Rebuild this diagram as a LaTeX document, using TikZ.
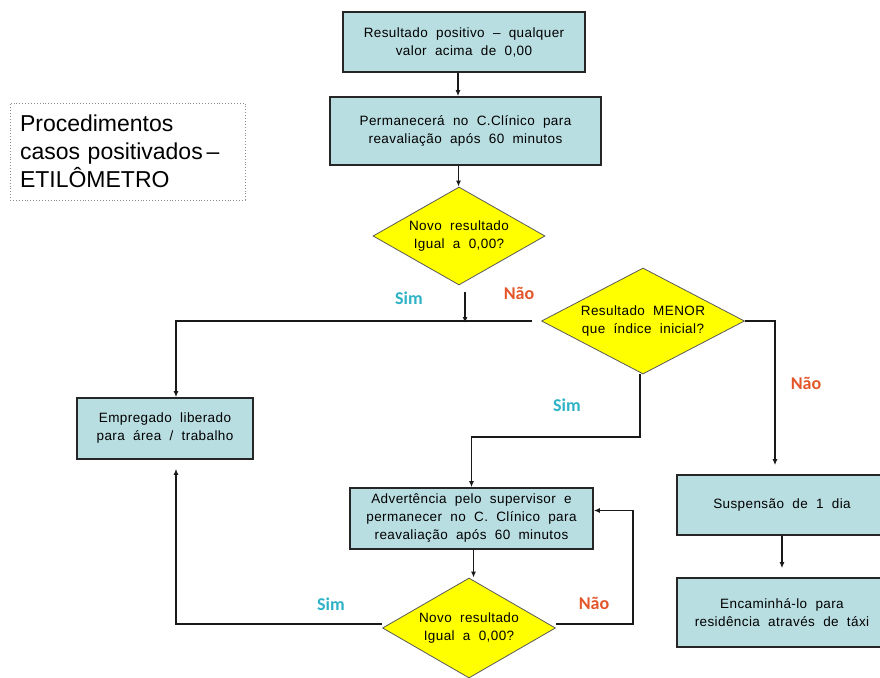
\documentclass[tikz,border=0pt]{standalone}
\usepackage{fontspec}
\setmainfont{Liberation Sans}
\newfontfamily\boxfont{Liberation Sans}[WordSpace=2,LetterSpace=3]
\newfontfamily\lblfont{Carlito}
\usetikzlibrary{shapes.geometric,arrows.meta,calc}
\definecolor{boxblue}{RGB}{185,222,226}
\definecolor{dyellow}{RGB}{255,255,0}
\definecolor{simc}{RGB}{45,178,198}
\definecolor{naoc}{RGB}{226,86,42}
\begin{document}
\begin{tikzpicture}[x=1pt,y=-1pt,
  procbox/.style={rectangle,draw=black!85,line width=1.6pt,fill=boxblue,inner sep=0pt,align=center,
    font=\boxfont\fontsize{13.5}{18}\selectfont},
  decis/.style={diamond,draw=black!65,line width=0.8pt,fill=dyellow,inner sep=-25pt,align=center,
    font=\boxfont\fontsize{13.5}{18}\selectfont},
  titlebox/.style={rectangle,draw=black!45,dotted,line width=0.9pt,inner sep=10pt,align=left,
    text width=215pt,font=\fontsize{23}{28}\selectfont},
  arr/.style={draw=black!90,line width=1.3pt,-{Latex[length=6pt,width=5pt]}},
  simlbl/.style={font=\lblfont\bfseries\fontsize{18}{20}\selectfont,text=simc},
  naolbl/.style={font=\lblfont\bfseries\fontsize{18}{20}\selectfont,text=naoc}
]
\useasboundingbox (0,0) rectangle (880,677);
\clip (0,0) rectangle (880,677);

% title
\node[titlebox,minimum width=235pt,minimum height=97pt] (title) at (127.5,151.5)
  {Procedimentos\\casos positivados\,–\\ETILÔMETRO};

% process boxes
\node[procbox,minimum width=242pt,minimum height=60pt] (b1) at (464,42)
  {Resultado positivo – qualquer\\valor acima de 0,00};
\node[procbox,minimum width=271pt,minimum height=68pt] (b2) at (465.5,131)
  {Permanecerá no C.Clínico para\\reavaliação após 60 minutos};
\node[procbox,minimum width=176pt,minimum height=61pt] (emp) at (165,428.5)
  {Empregado liberado\\para área / trabalho};
\node[procbox,minimum width=243pt,minimum height=61pt] (adv) at (471.5,518.5)
  {Advertência pelo supervisor e\\permanecer no C. Clínico para\\reavaliação após 60 minutos};
\node[procbox,minimum width=210pt,minimum height=60pt] (sus) at (782,505)
  {Suspensão de 1 dia};
\node[procbox,minimum width=210pt,minimum height=69pt] (enc) at (782,612.5)
  {Encaminhá-lo para\\residência através de táxi};

% decisions
\node[decis,minimum width=172pt,minimum height=98pt] (d1) at (459,236)
  {Novo resultado\\Igual a 0,00?};
\node[decis,minimum width=203pt,minimum height=106pt] (d2) at (643,321)
  {Resultado MENOR\\que índice inicial?};
\node[decis,minimum width=173pt,minimum height=100pt] (d3) at (469,628)
  {Novo resultado\\Igual a 0,00?};

% junction coordinates
\coordinate (j1) at (465,323);
\coordinate (j2) at (640,437);
\coordinate (j3) at (633,624);
\coordinate (j4) at (775,323);

% connectors
\draw[arr] ([xshift=-6pt]b1.south) -- ([xshift=-6pt]b1.south |- b2.north);
\draw[arr] ([xshift=-7pt]b2.south) -- ([xshift=-7pt]b2.south |- d1.north);
\draw[arr] ([yshift=-7pt]d1.south -| j1) -- (j1);
\draw[arr] ([xshift=-9pt]d2.west) -| ([xshift=11pt]emp.north);
\draw[arr] (d2.east) -| (j4) -- ([xshift=-7pt,yshift=9pt]sus.north);
\draw[arr] (sus.south) -- ([yshift=9pt]enc.north);
\draw[arr] (d2.south -| j2) -- (j2) -| (adv.north);
\draw[arr] ([xshift=2pt]adv.south) -- ([xshift=2pt]adv.south |- d3.north);
\draw[arr] (d3.east |- j3) -- (j3) |- ([yshift=8pt]adv.east);
\draw[arr] (d3.west |- j3) -| ([xshift=11pt,yshift=-9pt]emp.south);

% labels
\node[simlbl] (s1) at (409,298) {Sim};
\node[naolbl] (n1) at (519,293) {Não};
\node[simlbl] (s2) at (567,405) {Sim};
\node[naolbl] (n2) at (806,383) {Não};
\node[simlbl] (s3) at (331,604) {Sim};
\node[naolbl] (n3) at (594,603) {Não};
\end{tikzpicture}
\end{document}
